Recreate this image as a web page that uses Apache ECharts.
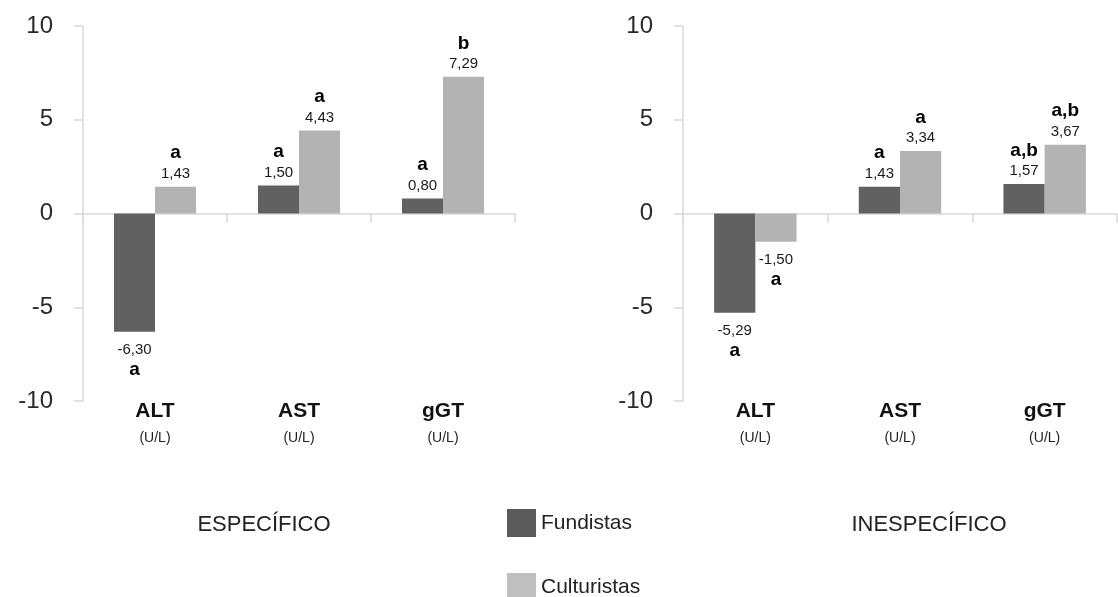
<!DOCTYPE html>
<html>
<head>
<meta charset="utf-8">
<script src="https://cdn.jsdelivr.net/npm/echarts@6/dist/echarts.min.js"></script>
<style>
  html, body { margin: 0; padding: 0; background: #fff; }
  #chart { width: 1118px; height: 597px; }
</style>
</head>
<body>
<div id="chart"></div>
<script>
// ---- data ----
const categories = ['ALT', 'AST', 'gGT'];
const unitLabel = '(U/L)';
const panelTitles = ['ESPECÍFICO', 'INESPECÍFICO'];
const seriesNames = ['Fundistas', 'Culturistas'];

const especificoFundistas = [-6.30, 1.50, 0.80];
const especificoCulturistas = [1.43, 4.43, 7.29];
const especificoFundistasLetters = ['a', 'a', 'a'];
const especificoCulturistasLetters = ['a', 'a', 'b'];

const inespecificoFundistas = [-5.29, 1.43, 1.57];
const inespecificoCulturistas = [-1.50, 3.34, 3.67];
const inespecificoFundistasLetters = ['a', 'a', 'a,b'];
const inespecificoCulturistasLetters = ['a', 'a', 'a,b'];

const yTicks = [-10, -5, 0, 5, 10];

// ---- styles ----
const FONT = "'Liberation Sans', Arial, sans-serif";
const DARK = '#616161';
const LIGHT = '#b3b3b3';
const AXIS = '#d9d9d9';

function fmt(v) { return v.toFixed(2).replace('.', ','); }

function makeData(values, letters) {
  return values.map((v, i) => ({
    value: v,
    label: {
      position: v < 0 ? 'bottom' : 'top',
      distance: v < 0 ? 9 : 4,
      formatter: v < 0 ? '{v|' + fmt(v) + '}\n{l|' + letters[i] + '}'
                       : '{l|' + letters[i] + '}\n{v|' + fmt(v) + '}'
    }
  }));
}

const labelRich = {
  v: { fontFamily: FONT, fontSize: 15, color: '#1a1a1a', lineHeight: 18 },
  l: { fontFamily: FONT, fontSize: 19, fontWeight: 'bold', color: '#000', lineHeight: 23 }
};

function barSeries(name, values, letters, color, idx) {
  return {
    type: 'bar',
    name: name,
    xAxisIndex: idx * 2,
    yAxisIndex: idx,
    barGap: '0%',
    barCategoryGap: '43%',
    itemStyle: { color: color },
    label: { show: true, rich: labelRich },
    data: makeData(values, letters),
    emphasis: { disabled: true }
  };
}

const grids = [
  { left: 83, top: 26, width: 432, height: 375 },
  { left: 683, top: 26, width: 434, height: 375 }
];

const xAxes = [];
const yAxes = [];
[0, 1].forEach(g => {
  xAxes.push({
    type: 'category', gridIndex: g, data: categories, position: 'bottom',
    axisLine: { show: true, onZero: true, lineStyle: { color: AXIS, width: 1.5 } },
    axisTick: { show: true, length: 9, lineStyle: { color: AXIS, width: 1.5 } },
    axisLabel: { show: false }
  });
  xAxes.push({
    type: 'category', gridIndex: g, data: categories, position: 'bottom',
    axisLine: { show: false, onZero: false },
    axisTick: { show: false },
    axisLabel: {
      show: true, margin: 0,
      formatter: c => '{b|' + c + '}\n{s|' + unitLabel + '}',
      rich: {
        b: { fontFamily: FONT, fontSize: 21, fontWeight: 'bold', color: '#111', lineHeight: 20 },
        s: { fontFamily: FONT, fontSize: 14, color: '#222', lineHeight: 34 }
      }
    }
  });
  yAxes.push({
    type: 'value', gridIndex: g, min: yTicks[0], max: yTicks[yTicks.length - 1], interval: 5,
    splitLine: { show: false },
    axisLine: { show: true, lineStyle: { color: AXIS, width: 1.5 } },
    axisTick: { show: true, length: 9, lineStyle: { color: AXIS, width: 1.5 } },
    axisLabel: { fontFamily: FONT, fontSize: 24, color: '#2a2a2a', margin: 30 }
  });
});

const legendText = { fontFamily: FONT, fontSize: 21, color: '#222' };
const legendColors = ['#5a5a5a', '#bfbfbf'];

const option = {
  animation: false,
  backgroundColor: '#fff',
  title: [
    { text: panelTitles[0], left: 259, top: 520, textAlign: 'center', textVerticalAlign: 'middle',
      textStyle: { fontFamily: FONT, fontSize: 22, fontWeight: 'normal', color: '#222' } },
    { text: panelTitles[1], left: 924, top: 520, textAlign: 'center', textVerticalAlign: 'middle',
      textStyle: { fontFamily: FONT, fontSize: 22, fontWeight: 'normal', color: '#222' } }
  ],
  legend: seriesNames.map((n, i) => ({
    orient: 'vertical', left: 507, top: i === 0 ? 509 : 573,
    padding: 0,
    itemWidth: 29, itemHeight: 28,
    icon: 'rect',
    selectedMode: false,
    textStyle: legendText,
    data: [{ name: n, itemStyle: { color: legendColors[i] } }]
  })),
  grid: grids,
  xAxis: xAxes,
  yAxis: yAxes,
  series: [
    barSeries(seriesNames[0], especificoFundistas, especificoFundistasLetters, DARK, 0),
    barSeries(seriesNames[1], especificoCulturistas, especificoCulturistasLetters, LIGHT, 0),
    barSeries(seriesNames[0], inespecificoFundistas, inespecificoFundistasLetters, DARK, 1),
    barSeries(seriesNames[1], inespecificoCulturistas, inespecificoCulturistasLetters, LIGHT, 1)
  ]
};

const chart = echarts.init(document.getElementById('chart'), null, { renderer: 'canvas' });
chart.setOption(option);
</script>
</body>
</html>
